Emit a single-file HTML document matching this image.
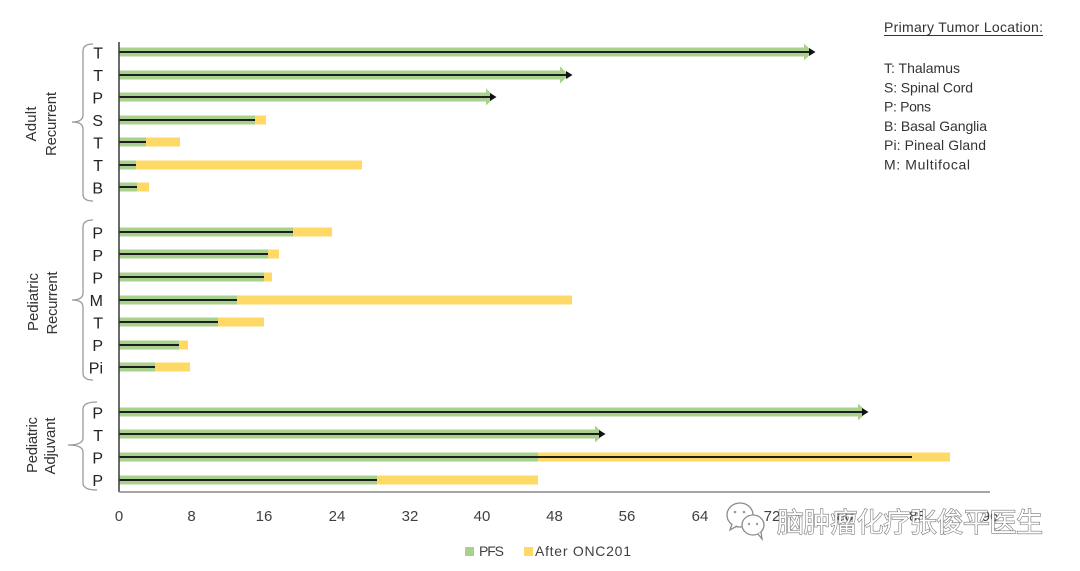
<!DOCTYPE html>
<html>
<head>
<meta charset="utf-8">
<style>
  html,body{margin:0;padding:0;background:#fff;}
  svg{display:block;}
  text{font-family:"Liberation Sans","Noto Sans CJK SC",sans-serif;}
</style>
</head>
<body>
<svg width="1080" height="571" viewBox="0 0 1080 571" xmlns="http://www.w3.org/2000/svg">
  <rect width="1080" height="571" fill="#ffffff"/>

  <!-- Bars: plain rows -->
  <g>
    <rect x="119" y="115.5" width="147" height="9" fill="#ffd966"/>
    <rect x="119" y="115.5" width="136" height="9" fill="#a9d18e"/>
    <rect x="119" y="137.5" width="61" height="9" fill="#ffd966"/>
    <rect x="119" y="137.5" width="27" height="9" fill="#a9d18e"/>
    <rect x="119" y="160.5" width="243" height="9" fill="#ffd966"/>
    <rect x="119" y="160.5" width="17" height="9" fill="#a9d18e"/>
    <rect x="119" y="182.5" width="30" height="9" fill="#ffd966"/>
    <rect x="119" y="182.5" width="18" height="9" fill="#a9d18e"/>

    <rect x="119" y="227.5" width="213" height="9" fill="#ffd966"/>
    <rect x="119" y="227.5" width="174" height="9" fill="#a9d18e"/>
    <rect x="119" y="249.5" width="160" height="9" fill="#ffd966"/>
    <rect x="119" y="249.5" width="149" height="9" fill="#a9d18e"/>
    <rect x="119" y="272.5" width="153" height="9" fill="#ffd966"/>
    <rect x="119" y="272.5" width="145" height="9" fill="#a9d18e"/>
    <rect x="119" y="295.5" width="453" height="9" fill="#ffd966"/>
    <rect x="119" y="295.5" width="118" height="9" fill="#a9d18e"/>
    <rect x="119" y="317.5" width="145" height="9" fill="#ffd966"/>
    <rect x="119" y="317.5" width="99" height="9" fill="#a9d18e"/>
    <rect x="119" y="340.5" width="69" height="9" fill="#ffd966"/>
    <rect x="119" y="340.5" width="60" height="9" fill="#a9d18e"/>
    <rect x="119" y="362.5" width="71" height="9" fill="#ffd966"/>
    <rect x="119" y="362.5" width="36" height="9" fill="#a9d18e"/>

    <rect x="119" y="452.5" width="831" height="9" fill="#ffd966"/>
    <rect x="119" y="452.5" width="419" height="9" fill="#a9d18e"/>
    <rect x="119" y="475.5" width="419" height="9" fill="#ffd966"/>
    <rect x="119" y="475.5" width="258" height="9" fill="#a9d18e"/>
  </g>

  <!-- Arrow rows (green) -->
  <g fill="#a9d18e">
    <rect x="119" y="47.5" width="687" height="9"/>
    <polygon points="804,43.5 813,52 804,60.5"/>
    <rect x="119" y="70.5" width="443" height="9"/>
    <polygon points="560,66.5 569,75 560,83.5"/>
    <rect x="119" y="92.5" width="369" height="9"/>
    <polygon points="486,88.5 495,97 486,105.5"/>
    <rect x="119" y="407.5" width="741" height="9"/>
    <polygon points="858,403.5 867,412 858,420.5"/>
    <rect x="119" y="429.5" width="478" height="9"/>
    <polygon points="595,425.5 604,434 595,442.5"/>
  </g>

  <!-- Black lines -->
  <g stroke="#1e1e1e" stroke-width="2" fill="none">
    <line x1="119" y1="52" x2="809" y2="52"/>
    <line x1="119" y1="75" x2="566" y2="75"/>
    <line x1="119" y1="97" x2="491" y2="97"/>
    <line x1="119" y1="120" x2="255" y2="120"/>
    <line x1="119" y1="142" x2="146" y2="142"/>
    <line x1="119" y1="165" x2="136" y2="165"/>
    <line x1="119" y1="187" x2="137" y2="187"/>
    <line x1="119" y1="232" x2="293" y2="232"/>
    <line x1="119" y1="254" x2="268" y2="254"/>
    <line x1="119" y1="277" x2="264" y2="277"/>
    <line x1="119" y1="300" x2="237" y2="300"/>
    <line x1="119" y1="322" x2="218" y2="322"/>
    <line x1="119" y1="345" x2="179" y2="345"/>
    <line x1="119" y1="367" x2="155" y2="367"/>
    <line x1="119" y1="412" x2="863" y2="412"/>
    <line x1="119" y1="434" x2="600" y2="434"/>
    <line x1="119" y1="457" x2="912" y2="457"/>
    <line x1="119" y1="480" x2="377" y2="480"/>
  </g>
  <g fill="#111">
    <polygon points="809,48 815.5,52 809,56"/>
    <polygon points="566,71 572.5,75 566,79"/>
    <polygon points="490,93 496.5,97 490,101"/>
    <polygon points="862,408 868.5,412 862,416"/>
    <polygon points="599,430 605.5,434 599,438"/>
  </g>

  <!-- Axes -->
  <line x1="119" y1="42" x2="119" y2="492" stroke="#3a3a3a" stroke-width="1.5"/>
  <line x1="119" y1="492" x2="990" y2="492" stroke="#8a8a8a" stroke-width="1.5"/>

  <!-- Tick labels -->
  <g font-size="15" fill="#404040" text-anchor="middle">
    <text x="119" y="521">0</text>
    <text x="191.5" y="521">8</text>
    <text x="264" y="521">16</text>
    <text x="337" y="521">24</text>
    <text x="410" y="521">32</text>
    <text x="482" y="521">40</text>
    <text x="554.5" y="521">48</text>
    <text x="627" y="521">56</text>
    <text x="700" y="521">64</text>
    <text x="772" y="521">72</text>
    <text x="845" y="521">80</text>
    <text x="917.5" y="521">88</text>
    <text x="990" y="521">96</text>
  </g>

  <!-- Row letters -->
  <g font-size="16" fill="#222" text-anchor="end">
    <text x="103" y="58.5">T</text>
    <text x="103" y="81">T</text>
    <text x="103" y="103.5">P</text>
    <text x="103" y="126">S</text>
    <text x="103" y="148.5">T</text>
    <text x="103" y="171">T</text>
    <text x="103" y="193.5">B</text>
    <text x="103" y="238.5">P</text>
    <text x="103" y="261">P</text>
    <text x="103" y="283.5">P</text>
    <text x="103" y="306">M</text>
    <text x="103" y="328.5">T</text>
    <text x="103" y="351">P</text>
    <text x="103" y="373.5">Pi</text>
    <text x="103" y="418.5">P</text>
    <text x="103" y="441">T</text>
    <text x="103" y="463.5">P</text>
    <text x="103" y="486">P</text>
  </g>

  <!-- Brackets -->
  <g stroke="#9a9a9a" stroke-width="1.3" fill="none">
    <path d="M93 44 Q83 44 83 51 L83 115 Q83 122 72 122 Q83 122 83 129 L83 194 Q83 201 93 201"/>
    <path d="M93 220 Q83 220 83 227 L83 293 Q83 300 72 300 Q83 300 83 307 L83 373 Q83 380 93 380"/>
    <path d="M97 402 Q83 402 83 409 L83 438 Q83 445 68 445 Q83 445 83 452 L83 483 Q83 490 97 490"/>
  </g>

  <!-- Group labels (rotated) -->
  <g font-size="15" fill="#333" text-anchor="middle">
    <text transform="translate(36,124) rotate(-90)" textLength="35">Adult</text>
    <text transform="translate(56,124) rotate(-90)" textLength="64">Recurrent</text>
    <text transform="translate(38,302) rotate(-90)" textLength="58">Pediatric</text>
    <text transform="translate(57,303) rotate(-90)" textLength="63">Recurrent</text>
    <text transform="translate(37,445) rotate(-90)" textLength="56">Pediatric</text>
    <text transform="translate(55,446) rotate(-90)" textLength="57">Adjuvant</text>
  </g>

  <!-- Right legend -->
  <g font-size="14" fill="#333">
    <text x="884" y="32" textLength="159">Primary Tumor Location:</text>
    <line x1="884" y1="35.5" x2="1043" y2="35.5" stroke="#333" stroke-width="1"/>
    <text x="884" y="73" textLength="76">T: Thalamus</text>
    <text x="884" y="92.3" textLength="89">S: Spinal Cord</text>
    <text x="884" y="111.6" textLength="47">P: Pons</text>
    <text x="884" y="131" textLength="103">B: Basal Ganglia</text>
    <text x="884" y="150.2" textLength="102">Pi: Pineal Gland</text>
    <text x="884" y="169.5" textLength="86">M: Multifocal</text>
  </g>

  <!-- Bottom legend -->
  <rect x="465" y="547" width="9" height="9" fill="#a9d18e"/>
  <text x="479" y="556" font-size="14" fill="#404040" textLength="25">PFS</text>
  <rect x="524" y="547" width="9" height="9" fill="#ffd966"/>
  <text x="535" y="556" font-size="14" fill="#404040" textLength="96">After ONC201</text>

  <!-- Watermark -->
  <g stroke="#8c8c8c" stroke-width="1.3" fill="#ffffff">
    <ellipse cx="740" cy="515" rx="13" ry="12"/>
    <path d="M732 524 L730 530 L737 526" />
    <ellipse cx="753" cy="525" rx="11" ry="10"/>
    <path d="M758 534 L762 539 L761 532"/>
  </g>
  <g fill="#9a9a9a">
    <circle cx="735" cy="512" r="1.3"/>
    <circle cx="744" cy="512" r="1.3"/>
    <circle cx="749" cy="524" r="1.2"/>
    <circle cx="757" cy="524" r="1.2"/>
  </g>
  <text x="777" y="532" font-size="27" fill="#ffffff" stroke="#7a7a7a" stroke-width="1.2" paint-order="stroke" textLength="266" font-family="'Liberation Sans','Noto Sans CJK SC',sans-serif">脑肿瘤化疗张俊平医生</text>
</svg>
</body>
</html>
